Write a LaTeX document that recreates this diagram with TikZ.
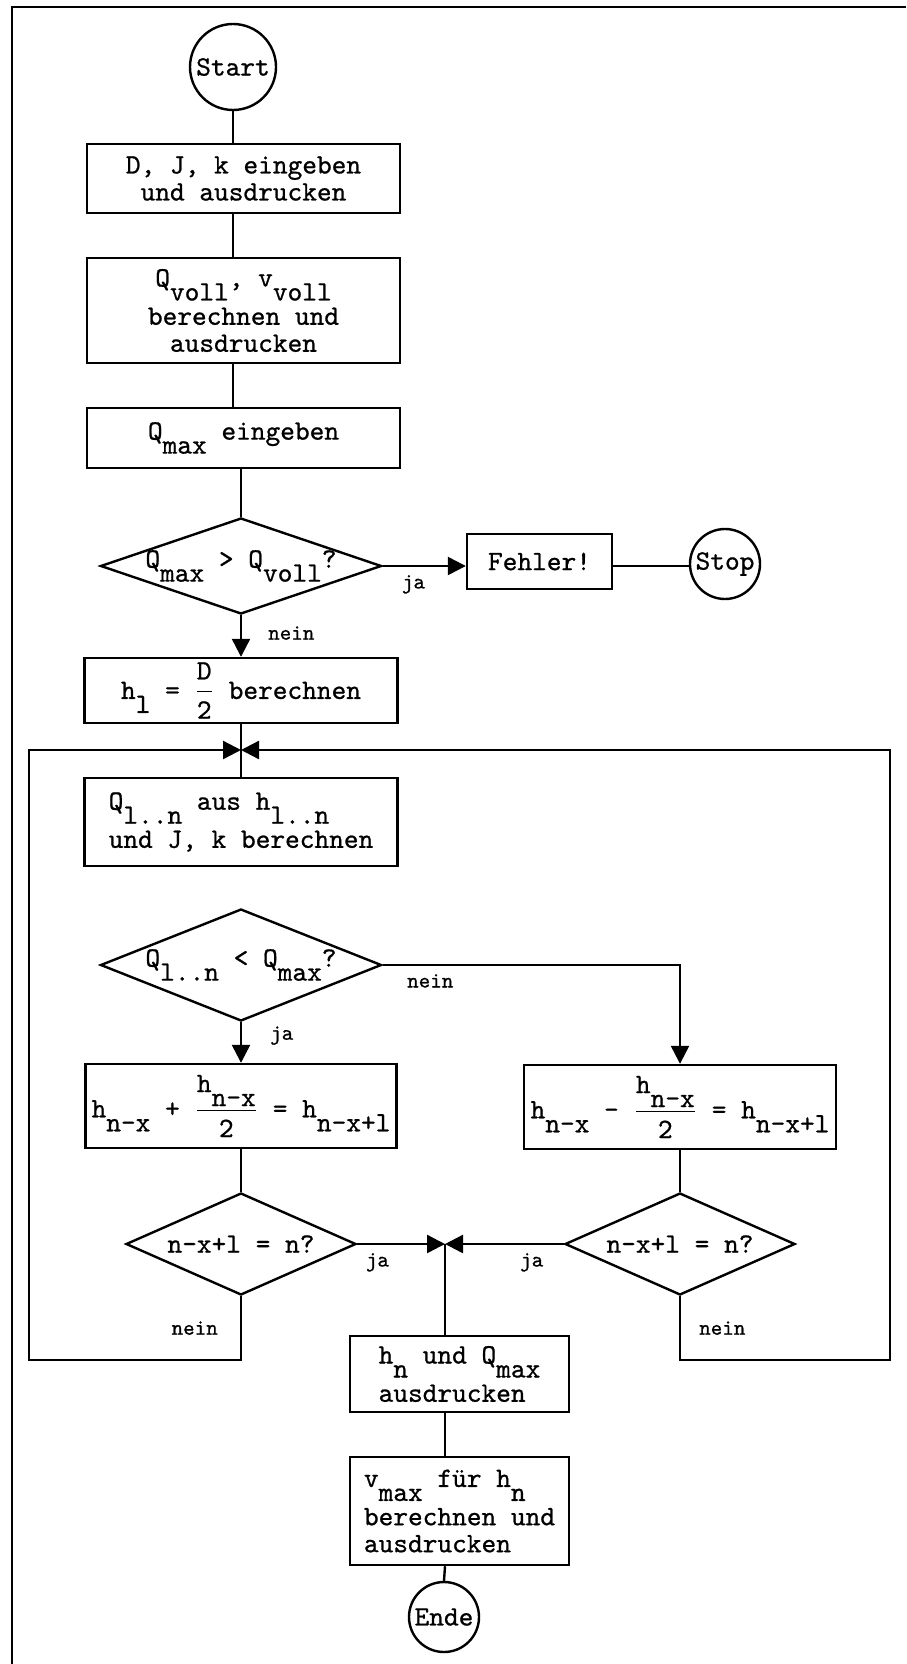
\documentclass[tikz,border=0pt]{standalone}
\usepackage{fontspec}
\usepackage{amsmath}
\usetikzlibrary{shapes.geometric,arrows.meta,positioning}

\newfontfamily\schreib{lmmono10-regular.otf}[FakeBold=0.8]
\newcommand{\tief}[1]{\raisebox{-0.5em}{#1}}

\begin{document}
\setlength{\lineskip}{3.5pt}
\begin{tikzpicture}[x=0.5pt,y=-0.5pt,
  line width=1.2pt,
  every node/.style={font=\schreib\fontsize{14}{13.5}\selectfont},
  box/.style={draw, rectangle, inner sep=0pt, minimum width=156.5pt},
  rund/.style={draw, circle, inner sep=0pt},
  decide/.style={draw, diamond, inner sep=0pt},
  lbl/.style={font=\schreib\fontsize{11}{11}\selectfont, inner sep=1pt},
  arr/.style={-{Triangle[length=9pt,width=9pt]}}]
\useasboundingbox (0,0) rectangle (906,1664);
% Rahmen
\draw (906,7) -- (12,7) -- (12,1664);

% Eingabe
\node[rund, minimum size=43pt] (start) at (233,67) {Start};
\node[box, minimum height=34.5pt, align=center] (eingabe) at (243.5,178.5) {D, J, k eingeben\\und ausdrucken};
\node[box, minimum height=52.5pt, align=center] (voll) at (243.5,310.5) {Q\tief{voll}, v\tief{voll}\\berechnen und\\ausdrucken};
\node[box, minimum height=30pt] (qmax) at (243.5,438) {Q\tief{max} eingeben};
\node[decide, minimum width=140.5pt, minimum height=48pt, label=center:{Q\tief{max} > Q\tief{voll}?}] (test1) at (241,566) {};
\node[box, minimum width=72.5pt, minimum height=27.5pt] (fehler) at (539.5,561.5) {Fehler!};
\node[rund, minimum size=35pt] (stop) at (725,564) {Stop};

% Schleife
\node[box, minimum height=32.5pt] (hstart) at (241,690.5) {h\tief{l} = $\dfrac{\mbox{\schreib D}}{\mbox{\schreib 2}}$ berechnen};
\coordinate (oben) at (241,750);
\node[box, minimum height=44pt, align=left] (qaus) at (241,822) {Q\tief{l..n} aus h\tief{l..n}\\und J, k berechnen};
\node[decide, minimum width=140.5pt, minimum height=56pt, label=center:{Q\tief{l..n} < Q\tief{max}?}] (test2) at (241,965) {};
\node[box, minimum width=155.5pt, minimum height=42pt] (plus) at (241,1106) {h\tief{n-x} + $\dfrac{\mbox{\schreib h\tief{n-x}}}{\mbox{\schreib 2}}$ = h\tief{n-x+l}};
\node[box, minimum width=156pt, minimum height=42pt] (minus) at (680,1107) {h\tief{n-x} - $\dfrac{\mbox{\schreib h\tief{n-x}}}{\mbox{\schreib 2}}$ = h\tief{n-x+l}};
\node[decide, minimum width=115pt, minimum height=51pt, label=center:{n-x+l = n?}] (test3) at (241,1244) {};
\node[decide, minimum width=115pt, minimum height=51pt, label=center:{n-x+l = n?}] (test4) at (680,1244) {};
\coordinate (unten) at (445,1244);
\coordinate (linksunten) at (29,1360);
\coordinate (rechtsunten) at (890,1360);

% Ausgabe
\node[box, minimum width=109.5pt, minimum height=38pt, align=left] (aus1) at (459.5,1374) {h\tief{n} und Q\tief{max}\\ausdrucken};
\node[box, minimum width=109.5pt, minimum height=54pt, align=left] (aus2) at (459.5,1511) {v\tief{max} für h\tief{n}\\berechnen und\\ausdrucken};
\node[rund, minimum size=35pt] (ende) at (444,1617) {Ende};

\draw (start.south) -- (start.south |- eingabe.north);
\draw (eingabe.south -| start) -- (voll.north -| start);
\draw (voll.south -| start) -- (qmax.north -| start);
\draw (qmax.south -| test1) -- (test1.north);
\draw[arr] (test1.east) -- node[lbl, pos=0.37, below=3pt] {ja} (test1.east -| fehler.west);
\draw (fehler.east |- test1.east) -- (stop.west |- test1.east);
\draw[arr] (test1.south) -- node[lbl, pos=0.43, right=12pt] {nein} (hstart.north);
\draw (hstart.south) -- (qaus.north);
\draw[arr] (test2.south) -- node[lbl, pos=0.33, right=13pt] {ja} (plus.north);
\draw[arr] (test2.east) -| node[lbl, pos=0.08, below=3pt] {nein} (minus.north);
\draw (plus.south) -- (test3.north);
\draw (minus.south) -- (test4.north);
\draw[arr] (test3.south) |- node[lbl, pos=0.25, left=10pt] {nein} (linksunten) |- (oben);
\draw[arr] (test4.south) |- node[lbl, pos=0.25, right=8pt] {nein} (rechtsunten) |- (oben);
\draw[arr] (test3.east) -- node[lbl, pos=0.23, below=3pt] {ja} (unten);
\draw[arr] (test4.west) -- node[lbl, pos=0.27, below=3pt] {ja} (unten);
\draw (unten) -- (unten |- aus1.north);
\draw (aus1.south -| unten) -- (aus2.north -| unten);
\draw (aus2.south -| unten) -- (ende.north);
\end{tikzpicture}
\end{document}
